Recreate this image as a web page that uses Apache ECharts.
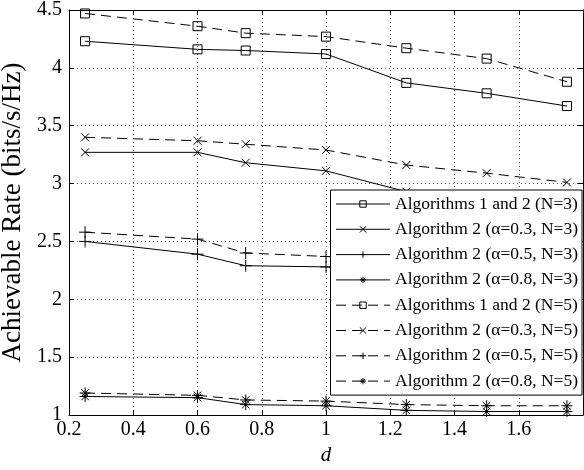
<!DOCTYPE html>
<html>
<head>
<meta charset="utf-8">
<script src="https://cdn.jsdelivr.net/npm/echarts@6/dist/echarts.min.js"></script>
<style>
  html, body { margin: 0; padding: 0; background: #fff; }
  #chart { width: 584px; height: 470px; }
</style>
</head>
<body>
<div id="chart"></div>
<script>
// Distance values on the horizontal axis
const dValues = [0.25, 0.6, 0.75, 1, 1.25, 1.5, 1.75];

// Achievable rate (bits/s/Hz), N = 3 (solid lines)
const alg12N3   = [4.23, 4.16, 4.15, 4.12, 3.87, 3.78, 3.67];
const alg2a03N3 = [3.27, 3.27, 3.18, 3.11, 2.93, 2.86, 2.78];
const alg2a05N3 = [2.50, 2.39, 2.29, 2.28, 2.20, 2.14, 2.08];
const alg2a08N3 = [1.16, 1.15, 1.09, 1.08, 1.04, 1.03, 1.03];

// Achievable rate (bits/s/Hz), N = 5 (dashed lines)
const alg12N5   = [4.47, 4.36, 4.30, 4.27, 4.17, 4.08, 3.88];
const alg2a03N5 = [3.40, 3.37, 3.34, 3.29, 3.16, 3.09, 3.01];
const alg2a05N5 = [2.58, 2.52, 2.40, 2.37, 2.31, 2.25, 2.19];
const alg2a08N5 = [1.19, 1.17, 1.13, 1.12, 1.09, 1.08, 1.08];

const seriesNames = [
  'Algorithms 1 and 2 (N=3)',
  'Algorithm 2 (\u03b1=0.3, N=3)',
  'Algorithm 2 (\u03b1=0.5, N=3)',
  'Algorithm 2 (\u03b1=0.8, N=3)',
  'Algorithms 1 and 2 (N=5)',
  'Algorithm 2 (\u03b1=0.3, N=5)',
  'Algorithm 2 (\u03b1=0.5, N=5)',
  'Algorithm 2 (\u03b1=0.8, N=5)'
];
const seriesValues = [alg12N3, alg2a03N3, alg2a05N3, alg2a08N3,
                      alg12N5, alg2a03N5, alg2a05N5, alg2a08N5];

const FONT = 'Liberation Serif';

// Marker shapes: square, x, plus, star
const markers = [
  { symbol: 'rect', size: 9 },
  { symbol: 'path://M0,0L10,10M10,0L0,10', size: 8 },
  { symbol: 'path://M5,0L5,10M0,5L10,5', size: 12 },
  { symbol: 'path://M5,0L5,10M0,5L10,5M1.6,1.6L8.4,8.4M8.4,1.6L1.6,8.4', size: 11 }
];

const series = seriesValues.map(function (vals, i) {
  const m = markers[i % 4];
  const dashed = i >= 4;
  return {
    name: seriesNames[i],
    type: 'line',
    data: dValues.map(function (d, k) { return [d, vals[k]]; }),
    symbol: m.symbol,
    symbolSize: m.size,
    showAllSymbol: true,
    itemStyle: { color: 'transparent', borderColor: '#000', borderWidth: 1 },
    lineStyle: { color: '#000', width: 1, type: dashed ? [10, 6] : 'solid' },
    emphasis: { disabled: true },
    animation: false,
    z: 2
  };
});

const chart = echarts.init(document.getElementById('chart'), null, { renderer: 'canvas' });

const gridLine = { show: true, lineStyle: { color: '#555', width: 1, type: [1, 3] } };
const frameLine = { show: true, lineStyle: { color: '#000', width: 1 } };
const tick = { show: true, inside: true, length: 5, lineStyle: { color: '#000' } };

chart.setOption({
  backgroundColor: '#fff',
  animation: false,
  grid: { left: 69, right: 1, top: 10, bottom: 55, outerBoundsMode: 'none', containLabel: false },
  legend: {
    orient: 'vertical',
    right: 2,
    top: 190,
    data: seriesNames,
    backgroundColor: '#fff',
    borderColor: '#000',
    borderWidth: 1,
    borderRadius: 0,
    padding: [4, 4, 4, 5],
    itemGap: 5.3,
    itemWidth: 54,
    itemHeight: 8,
    selectedMode: false,
    itemStyle: { borderWidth: 1 },
    lineStyle: { width: 1 },
    textStyle: { fontFamily: FONT, fontSize: 17.5, color: '#000', lineHeight: 20 },
    z: 10
  },
  xAxis: [
    {
      type: 'value',
      min: 0.2, max: 1.8, interval: 0.2,
      name: 'd',
      nameLocation: 'middle',
      nameGap: 26,
      nameTextStyle: { fontFamily: FONT, fontSize: 21, fontStyle: 'italic', color: '#000' },
      axisLine: frameLine,
      axisTick: tick,
      splitLine: gridLine,
      axisLabel: {
        fontFamily: FONT, fontSize: 20, color: '#000', margin: 5,
        showMaxLabel: false,
        formatter: function (v) { return String(Math.round(v * 10) / 10); }
      }
    },
    {
      type: 'value', position: 'top',
      min: 0.2, max: 1.8, interval: 0.2,
      axisLine: frameLine, axisTick: tick,
      axisLabel: { show: false }, splitLine: { show: false }
    }
  ],
  yAxis: [
    {
      type: 'value',
      min: 1, max: 4.5, interval: 0.5,
      name: 'Achievable Rate (bits/s/Hz)',
      nameLocation: 'middle',
      nameGap: 31,
      nameTextStyle: { fontFamily: FONT, fontSize: 27, color: '#000' },
      axisLine: frameLine,
      axisTick: tick,
      splitLine: gridLine,
      axisLabel: {
        fontFamily: FONT, fontSize: 20, color: '#000', margin: 7,
        formatter: function (v) { return String(Math.round(v * 10) / 10); }
      }
    },
    {
      type: 'value', position: 'right',
      min: 1, max: 4.5, interval: 0.5,
      axisLine: frameLine, axisTick: tick,
      axisLabel: { show: false }, splitLine: { show: false }
    }
  ],
  series: series
});
</script>
</body>
</html>
